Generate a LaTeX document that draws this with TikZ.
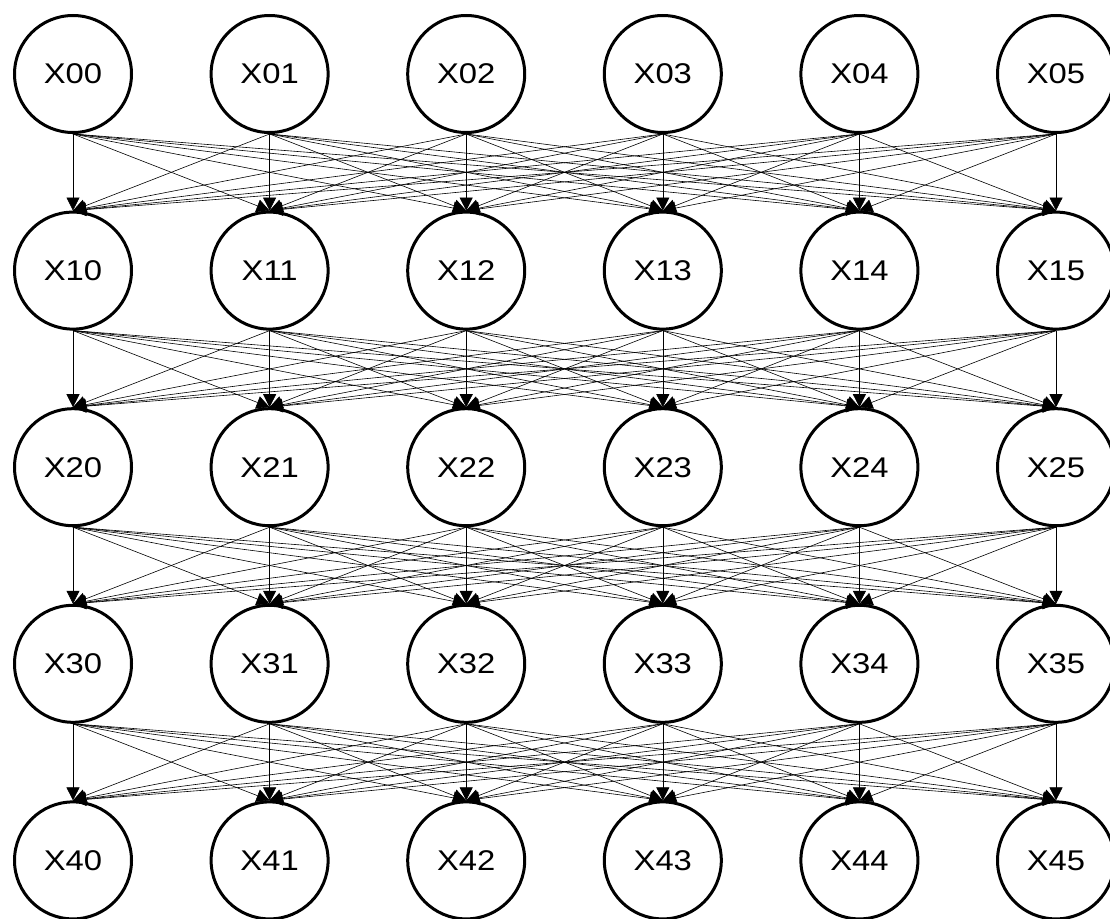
\documentclass[tikz,border=0pt]{standalone}
\usepackage{fontspec}
\setmainfont{Liberation Sans}
\newfontfamily\nodefont[FakeStretch=1.15]{Liberation Sans}
\usetikzlibrary{arrows.meta}
\begin{document}
\begin{tikzpicture}[x=1pt,y=-1pt,
  neuron/.style={circle,draw,line width=3pt,minimum size=117pt,inner sep=0pt,
    font=\nodefont\fontsize{28.5}{34}\selectfont},
  edge/.style={line width=0.6pt,-{Triangle[length=13pt,width=13pt]}}]
\useasboundingbox (0,0) rectangle (1110,918);
\foreach \i in {0,...,4}{
  \foreach \j in {0,...,5}{
    \node[neuron] (n\i\j) at ({73+196.6*\j},{74+196.6*\i}) {X\i\j};
  }
}
\foreach \i [evaluate=\i as \ni using int(\i+1)] in {0,...,3}{
  \foreach \j in {0,...,5}{
    \foreach \k in {0,...,5}{
      \draw[edge] (n\i\j.south) -- (n\ni\k.north);
    }
  }
}
\end{tikzpicture}
\end{document}
